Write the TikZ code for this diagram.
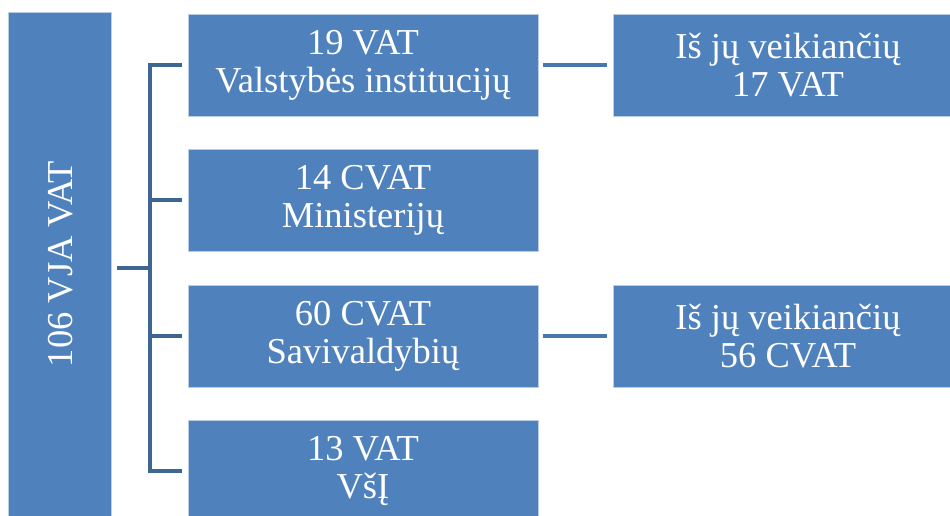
\documentclass[tikz,border=0pt]{standalone}
\usepackage{fontspec}
\setmainfont{Liberation Serif}
\usetikzlibrary{calc}
\definecolor{boxblue}{HTML}{4F81BD}
\definecolor{trunkblue}{HTML}{3E6693}
\definecolor{linkblue}{HTML}{4A76AE}
\tikzset{
 vatbox/.style={fill=boxblue,draw=white!60!boxblue,line width=0.8pt,text=white,
  minimum width=350pt,minimum height=102pt,align=center,inner sep=0pt,
  font=\fontsize{36.5}{38}\selectfont},
 trunkline/.style={draw=trunkblue,line width=4.6pt,line join=miter},
 linkline/.style={draw=linkblue,line width=4.6pt,shorten <=5pt,shorten >=6pt}
}
\begin{document}
\begin{tikzpicture}[x=1pt,y=-1pt]
 \useasboundingbox (0,0) rectangle (950,515);
 \clip (0,0) rectangle (950,515);
 %kairys stulpelis
 \node[vatbox,minimum width=103pt,minimum height=512pt] (vja) at (59.5,268) {};
 \node[text=white,rotate=90,font=\fontsize{36.5}{38}\selectfont] (vjatxt) at (61,264) {106 VJA VAT};
 %vidurinis stulpelis
 \node[vatbox] (inst) at (363,65) {19 VAT\\Valstybės institucijų};
 \node[vatbox] (min) at (363,200) {14 CVAT\\Ministerijų};
 \node[vatbox] (sav) at (363,336) {60 CVAT\\Savivaldybių};
 \node[vatbox] (vsi) at (363,471) {13 VAT\\VšĮ};
 %dešinysis stulpelis
 \node[vatbox] (instv) at (788,65) {Iš jų veikiančių\\17 VAT};
 \node[vatbox] (savv) at (788,336) {Iš jų veikiančių\\56 CVAT};
 %jungtys
 \coordinate (fork) at (150,268);
 \draw[trunkline,shorten <=6pt] (vja.east) -- (fork);
 \draw[trunkline,shorten <=6pt,shorten >=6pt] (inst.west) -| (fork) |- (vsi.west);
 \draw[trunkline,shorten >=6pt] (fork) |- (min.west);
 \draw[trunkline,shorten >=6pt] (fork) |- (sav.west);
 \draw[linkline] (inst.east) -- (instv.west);
 \draw[linkline] (sav.east) -- (savv.west);
\end{tikzpicture}
\end{document}
